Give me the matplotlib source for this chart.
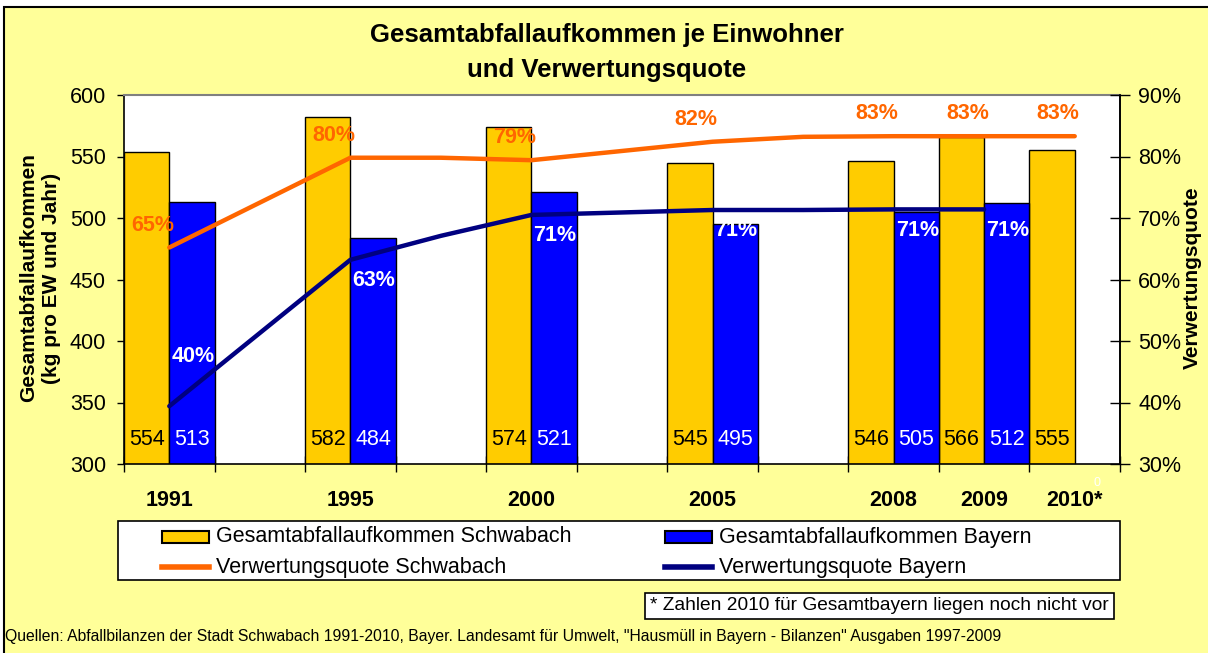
import matplotlib
matplotlib.use("Agg")
import matplotlib.pyplot as plt
from matplotlib.patches import Rectangle
from matplotlib.lines import Line2D
import numpy as np

# ---------------- data ----------------
slot_labels = ["1991", "", "1995", "", "2000", "", "2005", "", "2008", "2009", "2010*"]
bar_slots = [0, 2, 4, 6, 8, 9, 10]
schwabach_kg = [554, 582, 574, 545, 546, 566, 555]
bayern_slots = [0, 2, 4, 6, 8, 9]
bayern_kg = [513, 484, 521, 495, 505, 512]

quote_schwabach = [65.2, 72.5, 79.8, 79.8, 79.4, 80.9, 82.4, 83.2, 83.3, 83.3, 83.3]
quote_bayern = [39.4, 51.3, 63.2, 67.1, 70.5, 70.9, 71.3, 71.3, 71.4, 71.4]
label_slots_schwabach = [0, 2, 4, 6, 8, 9, 10]
label_text_schwabach = ["65%", "80%", "79%", "82%", "83%", "83%", "83%"]
label_slots_bayern = [0, 2, 4, 6, 8, 9]
label_text_bayern = ["40%", "63%", "71%", "71%", "71%", "71%"]

left_ticks = [300, 350, 400, 450, 500, 550, 600]
right_ticks = [30, 40, 50, 60, 70, 80, 90]

legend_labels = ["Gesamtabfallaufkommen Schwabach", "Gesamtabfallaufkommen Bayern",
                 "Verwertungsquote Schwabach", "Verwertungsquote Bayern"]

# ---------------- style ----------------
BG = "#FFFF99"
YEL = "#FFCC00"
BLU = "#0000FF"
ORA = "#FF6600"
NAV = "#000080"
FONT = ["Liberation Sans", "DejaVu Sans"]
NARROW = ["Liberation Sans Narrow", "Liberation Sans", "DejaVu Sans"]
plt.rcParams["font.family"] = FONT

W, H = 1208, 653
fig = plt.figure(figsize=(W / 100, H / 100), dpi=100, facecolor="white")


def fx(px):
    return px / W


def fy(py):
    return 1 - py / H


fig.patches.append(Rectangle((fx(4), -0.01), 1.02, fy(7) + 0.01, transform=fig.transFigure,
                             facecolor=BG, edgecolor="black", linewidth=1.5, zorder=-10))

ax = fig.add_axes([fx(124), fy(464), (1120 - 124) / W, (464 - 95) / H])
ax.set_facecolor("white")
ax.set_xlim(-0.5, len(slot_labels) - 0.5)
ax.set_ylim(300, 600)

bw = 0.5
ax.bar(np.array(bar_slots) - bw / 2, schwabach_kg, width=bw, color=YEL,
       edgecolor="black", linewidth=1.0, zorder=2)
ax.bar(np.array(bayern_slots) + bw / 2, bayern_kg, width=bw, color=BLU,
       edgecolor="black", linewidth=1.0, zorder=2)

for s, v in zip(bar_slots, schwabach_kg):
    ax.annotate(str(v), (s - bw / 2, 300), xytext=(0, 17.5), textcoords="offset points",
                ha="center", va="center", fontsize=15.5, color="black", zorder=5)
for s, v in zip(bayern_slots, bayern_kg):
    ax.annotate(str(v), (s + bw / 2, 300), xytext=(0, 17.5), textcoords="offset points",
                ha="center", va="center", fontsize=15.5, color="white", zorder=5)
ax.annotate("0", (10 + bw / 2, 300), xytext=(0, -14), textcoords="offset points",
            ha="center", va="center", fontsize=9, color="white", annotation_clip=False)

# axes styling
ax.set_yticks(left_ticks)
ax.set_yticklabels([str(t) for t in left_ticks], fontsize=15.5)
ax.tick_params(axis="y", direction="out", length=5, width=1, pad=8)
ax.set_xticks(np.arange(-0.5, len(slot_labels), 1.0))
ax.set_xticklabels([])
ax.tick_params(axis="x", which="major", direction="inout", length=12, width=1)
ax.set_xticks(np.arange(len(slot_labels)), minor=True)
ax.set_xticklabels(slot_labels, minor=True, fontsize=15.5, fontweight="bold")
ax.tick_params(axis="x", which="minor", length=0, pad=19)
for sp in ["left", "bottom", "right"]:
    ax.spines[sp].set_color("black")
    ax.spines[sp].set_linewidth(1.2)
ax.spines["top"].set_color("#808080")
ax.spines["top"].set_linewidth(1.5)

ax2 = ax.twinx()
ax2.set_ylim(30, 90)
ax2.set_yticks(right_ticks)
ax2.set_yticklabels([f"{t}%" for t in right_ticks], fontsize=15.5)
ax2.tick_params(axis="y", direction="inout", length=14, width=1, pad=6)
for sp in ax2.spines.values():
    sp.set_visible(False)
ax2.spines["right"].set_visible(True)
ax2.spines["right"].set_color("black")
ax2.spines["right"].set_linewidth(1.2)

ax2.plot(np.arange(len(quote_schwabach)), quote_schwabach, color=ORA, lw=3.2,
         solid_capstyle="round", solid_joinstyle="round", zorder=3)
ax2.plot(np.arange(len(quote_bayern)), quote_bayern, color=NAV, lw=3.2,
         solid_capstyle="round", solid_joinstyle="round", zorder=3)

for s, t in zip(label_slots_schwabach, label_text_schwabach):
    ax2.annotate(t, (s, quote_schwabach[s]), xytext=(-12, 16), textcoords="offset points",
                 ha="center", va="center", fontsize=15.5, fontweight="bold", color=ORA, zorder=6)
for s, t in zip(label_slots_bayern, label_text_bayern):
    dy = 36 if quote_bayern[s] < 50 else -15
    ax2.annotate(t, (s, quote_bayern[s]), xytext=(17, dy), textcoords="offset points",
                 ha="center", va="center", fontsize=15.5, fontweight="bold", color="white", zorder=6)

# titles / axis labels
fig.text(fx(607), fy(35), "Gesamtabfallaufkommen je Einwohner", ha="center", va="center",
         fontsize=18.5, fontweight="bold")
fig.text(fx(607), fy(70), "und Verwertungsquote", ha="center", va="center",
         fontsize=18.5, fontweight="bold")
fig.text(fx(40), fy(278), "Gesamtabfallaufkommen\n(kg pro EW und Jahr)", rotation=90,
         ha="center", va="center", multialignment="center", fontsize=15, fontweight="bold",
         linespacing=1.3)
fig.text(fx(1192), fy(278), "Verwertungsquote", rotation=90, ha="center", va="center",
         fontsize=15, fontweight="bold")

# legend (drawn as a box with samples)
fig.patches.append(Rectangle((fx(118), fy(580)), (1120 - 118) / W, 59 / H,
                             transform=fig.transFigure, facecolor="white",
                             edgecolor="black", linewidth=1.2, zorder=1))
legend_kind = [("patch", YEL), ("patch", BLU), ("line", ORA), ("line", NAV)]
legend_x = [162, 665, 162, 665]
legend_y = [537, 537, 567, 567]
for (kind, col), lx, ly, txt in zip(legend_kind, legend_x, legend_y, legend_labels):
    if kind == "patch":
        fig.patches.append(Rectangle((fx(lx), fy(ly + 6)), 47 / W, 12 / H,
                                     transform=fig.transFigure, facecolor=col,
                                     edgecolor="black", linewidth=1.5, zorder=2))
    else:
        fig.lines.append(Line2D([fx(lx), fx(lx + 47)], [fy(ly), fy(ly)],
                                transform=fig.transFigure, color=col, lw=4, zorder=2))
    fig.text(fx(lx + 54), fy(ly), txt, ha="left", va="center", fontsize=15.5, zorder=3)

fig.text(fx(1109), fy(606), "* Zahlen 2010 für Gesamtbayern liegen noch nicht vor",
         ha="right", va="center", fontsize=13.8, family=NARROW,
         bbox=dict(boxstyle="square,pad=0.25", facecolor="white", edgecolor="black", linewidth=1.2))

fig.text(fx(5), fy(637),
         'Quellen: Abfallbilanzen der Stadt Schwabach 1991-2010, Bayer. Landesamt für Umwelt, '
         '"Hausmüll in Bayern - Bilanzen" Ausgaben 1997-2009',
         ha="left", va="center", fontsize=11.3, family=NARROW)

fig.savefig("out.png", dpi=100, facecolor=fig.get_facecolor())
